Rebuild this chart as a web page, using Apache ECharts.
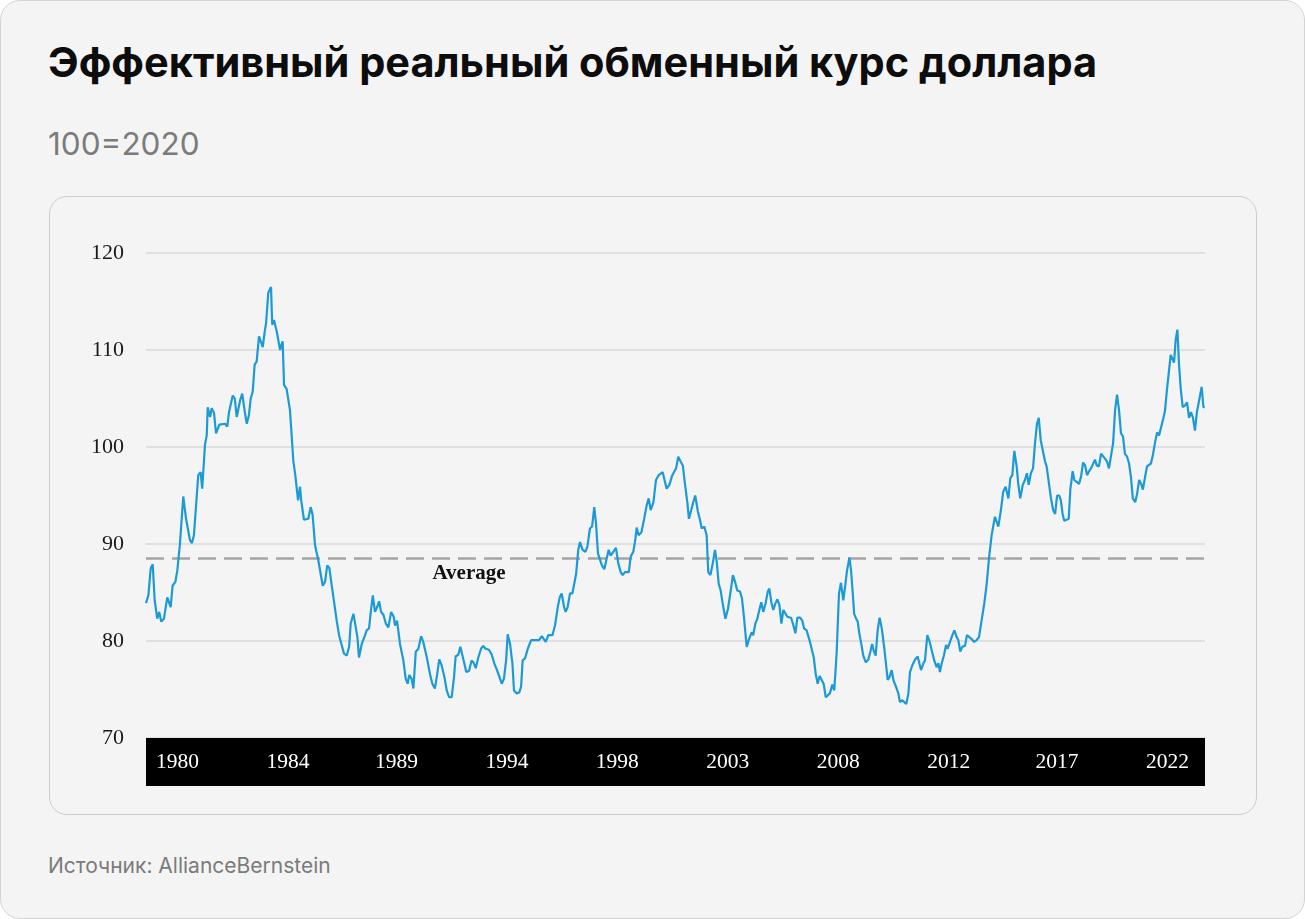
<!DOCTYPE html>
<html>
<head>
<meta charset="utf-8">
<script src="https://cdn.jsdelivr.net/npm/echarts@6/dist/echarts.min.js"></script>
<style>
  html, body { margin:0; padding:0; width:1305px; height:919px; background:#ffffff; overflow:hidden; }
  #card { position:absolute; left:0; top:0; width:1303px; height:917px; border:1px solid #d4d4d4; border-radius:20px; background:#f4f4f4; }
  #panel { position:absolute; left:49px; top:196px; width:1206px; height:617px; border:1px solid #cdcdcd; border-radius:18px; background:#f4f4f4; }
  .txt { position:absolute; left:48px; white-space:nowrap; font-family:Inter, 'Noto Sans', sans-serif; line-height:1; }
  #title { top:42px; font-size:41.5px; font-weight:700; color:#0d0d0d; }
  #subtitle { top:128px; font-size:31.5px; font-weight:400; color:#7b7b7b; }
  #source { top:855px; font-size:21px; font-weight:400; color:#7b7b7b; }
  #chart { position:absolute; left:0; top:0; width:1305px; height:919px; }
</style>
</head>
<body>
<div id="card"></div>
<div id="panel"></div>
<div class="txt" id="title">Эффективный реальный обменный курс доллара</div>
<div class="txt" id="subtitle">100=2020</div>
<div class="txt" id="source">Источник: AllianceBernstein</div>
<div id="chart"></div>
<script>
// Tick labels on the black band and the month index (from the first month of the series) they sit at
const tickLabels = ['1980', '1984', '1989', '1994', '1998', '2003', '2008', '2012', '2017', '2022'];
const tickMonthIdx = [16, 72, 127, 183, 239, 295, 351, 407, 462, 518];

// Long-run average level of the index
const averageLevel = 88.5;
const averageText = 'Average';

// Y-axis range
const yMin = 70, yMax = 120, yStep = 10;
const lastMonthIdx = 537;

// Real effective exchange rate of the dollar (100 = 2020): [month index, value]
const realRate = [
  [0,83.9],[1.2,84.7],[2.4,87.5],[3.4,87.9],[4.4,84.2],[5.7,82.3],[6.7,83.0],[7.7,82.0],[9.1,82.3],[10.8,84.5],
  [12.5,83.5],[13.5,85.7],[14.9,86.1],[15.9,87.3],[17.2,90.0],[18.9,94.9],[20.3,92.6],[22.3,90.4],[23.3,90.1],[24.3,90.9],
  [26.5,97.1],[27.7,97.4],[28.5,95.7],[29.9,100.2],[30.8,101.2],[31.3,104.1],[32.5,103.1],[33.3,104.0],[34.5,103.5],[35.5,101.4],
  [37.2,102.3],[40.1,102.4],[41.2,102.1],[42.1,103.6],[43.0,103.8],[44.0,105.3],[45.0,105.0],[46.0,103.1],[47.7,104.8],[48.8,105.5],
  [50.2,103.5],[51.1,102.4],[52.2,103.3],[53.1,105.0],[54.1,105.7],[55.1,108.5],[56.1,108.8],[57.3,111.4],[58.3,111.5],[59.2,110.3],
  [60.2,111.9],[60.9,112.8],[62.0,115.9],[63.4,116.5],[64.0,112.6],[64.9,113.1],[66.3,111.9],[68.0,110.0],[68.6,110.5],[69.3,110.9],
  [70.0,106.4],[71.3,106.0],[73.0,103.8],[74.7,98.6],[75.7,97.1],[77.1,94.5],[78.1,95.9],[78.7,94.5],[80.1,92.5],[82.3,92.6],
  [83.5,93.8],[84.5,93.0],[85.7,89.9],[87.4,88.3],[89.6,85.7],[90.8,86.1],[91.9,87.8],[93.0,87.5],[94.2,85.7],[95.0,85.6],
  [96.7,82.1],[97.9,80.6],[98.9,80.8],[100.4,78.7],[101.8,78.5],[103.0,79.4],[103.8,81.8],[105.2,82.8],[106.2,83.0],[107.2,80.4],
  [108.0,78.3],[109.4,79.7],[110.7,80.4],[111.9,81.1],[113.1,81.3],[114.1,83.2],[115.0,84.7],[116.1,83.0],[117.2,83.5],[118.2,84.1],
  [119.2,83.0],[120.4,82.7],[121.6,81.8],[122.9,81.4],[124.3,83.0],[125.6,82.5],[126.3,81.6],[127.3,82.1],[128.8,79.7],[130.5,78.0],
  [131.7,76.1],[132.7,75.6],[133.5,76.5],[134.7,76.1],[135.6,75.1],[136.8,78.9],[138.1,79.2],[139.5,80.5],[140.6,79.9],[142.4,78.3],
  [144.0,76.6],[145.2,75.6],[146.5,75.1],[147.6,76.5],[148.7,78.1],[149.9,77.5],[151.3,76.3],[152.5,74.9],[153.7,74.2],[155.0,74.2],
  [156.2,76.3],[157.0,78.4],[158.4,78.6],[159.4,79.4],[160.4,79.2],[161.4,77.7],[162.4,76.8],[163.8,76.9],[165.1,78.0],[166.3,77.7],
  [167.2,77.2],[168.5,78.3],[169.9,79.2],[171.0,79.5],[172.2,79.2],[173.9,79.1],[175.3,78.6],[176.6,77.7],[178.0,77.0],[179.0,76.8],
  [180.4,75.6],[181.5,76.1],[182.6,78.0],[183.4,80.7],[184.6,79.7],[185.8,77.7],[186.6,74.9],[188.0,74.6],[189.3,74.7],[190.2,75.3],
  [191.0,78.0],[192.2,78.2],[193.6,79.2],[195.3,80.1],[197.3,80.1],[199.3,80.1],[200.7,80.5],[201.7,80.6],[202.7,79.9],[204.0,80.6],
  [205.0,80.8],[206.1,80.6],[207.4,81.6],[208.8,83.5],[209.8,84.5],[210.8,84.9],[212.0,83.5],[212.8,83.0],[213.8,83.5],[215.0,84.9],
  [216.2,84.9],[218.1,86.9],[219.2,89.4],[220.1,90.2],[221.4,89.4],[222.8,89.2],[223.8,89.7],[225.1,91.6],[226.2,91.8],[227.3,93.8],
  [228.2,92.1],[229.2,89.0],[230.2,88.8],[231.2,87.8],[232.4,87.4],[233.6,88.5],[234.6,89.4],[235.6,88.8],[237.0,89.2],[238.3,89.6],
  [239.5,88.0],[240.7,87.1],[241.7,86.8],[242.9,87.1],[244.8,87.1],[245.8,88.7],[247.1,89.2],[248.1,90.4],[248.8,91.7],[249.8,90.9],
  [251.2,91.2],[252.5,92.5],[253.9,94.0],[254.9,94.7],[255.9,93.5],[257.3,94.3],[258.6,96.6],[260.0,97.1],[261.0,96.9],[262.0,97.4],
  [263.0,97.6],[264.0,95.7],[265.4,96.1],[266.7,97.0],[267.7,96.9],[268.8,97.8],[269.9,99.0],[271.1,98.5],[272.2,98.1],[273.3,96.2],
  [274.5,94.3],[275.3,92.6],[276.5,93.5],[277.5,94.3],[278.5,95.0],[279.9,93.3],[280.9,92.5],[281.8,91.6],[283.1,91.8],[284.3,90.9],
  [285.1,87.1],[286.2,86.8],[287.4,88.0],[288.5,89.4],[289.4,88.2],[290.4,85.9],[291.4,85.2],[292.4,83.9],[293.8,82.3],[295.1,83.3],
  [296.5,85.2],[297.6,86.8],[298.7,86.1],[299.8,85.2],[301.2,85.1],[302.2,84.4],[303.2,82.5],[304.6,79.4],[305.8,80.2],[307.1,80.9],
  [307.9,80.6],[309.0,81.8],[310.0,82.3],[311.0,83.2],[312.0,84.0],[313.0,83.0],[314.2,83.9],[315.3,85.1],[316.1,85.4],[317.1,84.0],
  [318.1,83.2],[319.2,83.9],[320.2,84.3],[321.2,83.7],[322.2,81.8],[323.2,83.2],[324.2,83.0],[325.2,82.5],[327.1,82.4],[328.3,81.6],
  [329.3,80.8],[330.3,82.4],[331.7,82.4],[332.8,82.1],[333.7,81.3],[335.0,81.1],[335.9,80.9],[336.7,79.9],[337.6,79.7],[338.6,78.3],
  [339.6,76.6],[340.6,75.6],[341.6,76.4],[342.6,76.5],[343.6,75.6],[344.7,74.2],[345.7,74.1],[346.8,74.6],[348.0,75.5],[349.0,74.9],
  [350.2,78.7],[351.4,84.9],[352.4,86.0],[353.6,84.2],[354.5,85.6],[355.5,87.3],[356.7,88.6],[357.5,87.3],[358.4,84.9],[359.1,82.8],
  [360.1,82.3],[360.9,82.0],[361.7,80.8],[362.7,79.7],[363.7,78.5],[365.0,77.8],[366.3,78.1],[367.3,78.9],[368.2,79.7],[369.0,79.0],
  [370.0,78.5],[371.0,81.1],[372.0,82.4],[373.1,81.3],[374.4,79.2],[375.2,77.7],[376.1,76.0],[377.1,76.3],[378.1,77.0],[379.1,75.9],
  [380.3,75.3],[381.5,74.6],[382.3,73.7],[383.5,73.9],[384.5,74.1],[385.5,73.5],[386.6,74.6],[387.4,76.8],[388.6,77.5],[390.0,78.1],
  [391.3,78.4],[392.1,78.3],[393.0,77.0],[394.2,77.7],[395.0,78.0],[396.2,80.6],[397.4,79.9],[398.6,78.9],[399.7,78.0],[400.9,77.3],
  [401.8,77.7],[402.6,76.8],[403.5,77.7],[404.6,78.5],[405.7,79.6],[406.5,79.2],[407.7,79.9],[408.9,80.6],[409.9,81.1],[411.1,80.4],
  [411.9,80.1],[412.9,78.9],[413.9,79.4],[415.3,79.5],[416.3,80.6],[417.3,80.7],[418.7,80.2],[419.9,79.9],[421.2,80.1],[422.4,80.4],
  [423.7,82.1],[425.1,83.9],[426.3,85.9],[427.5,88.6],[428.8,90.9],[430.2,92.5],[430.5,92.8],[432.2,91.8],[433.5,93.5],[434.7,95.4],
  [435.9,95.9],[437.3,94.7],[438.3,96.8],[439.3,97.1],[440.3,99.6],[441.5,98.0],[442.3,96.2],[443.3,94.7],[444.6,96.1],[445.7,96.6],
  [446.7,97.3],[447.6,96.1],[448.7,97.3],[449.8,97.8],[450.8,100.4],[451.8,102.4],[452.7,103.0],[453.7,100.7],[454.7,99.7],[455.9,98.5],
  [456.7,98.0],[457.9,96.2],[458.9,94.7],[460.0,93.5],[461.0,93.1],[462.0,95.0],[463.1,95.0],[463.9,94.5],[464.8,93.1],[465.6,92.4],
  [466.8,92.5],[467.9,92.6],[468.7,95.6],[469.9,97.5],[470.7,96.6],[471.9,96.4],[473.1,96.2],[474.1,96.9],[475.2,98.4],[476.2,98.1],
  [477.2,97.1],[478.2,97.5],[479.2,97.8],[480.2,98.0],[481.2,98.7],[482.1,98.1],[483.2,98.0],[484.3,99.3],[485.3,99.4],[486.3,98.8],
  [487.3,98.5],[488.3,97.8],[489.3,97.7],[490.4,100.4],[491.4,103.8],[492.4,105.4],[493.4,103.8],[494.4,101.4],[495.4,101.1],[496.4,99.3],
  [497.5,99.0],[498.5,98.3],[499.5,96.8],[500.4,94.7],[501.6,94.3],[502.6,95.2],[503.6,96.6],[504.6,96.2],[505.5,95.6],[506.6,96.9],
  [507.6,98.0],[508.6,98.2],[509.6,98.3],[510.6,99.2],[511.7,100.5],[512.7,101.5],[513.7,101.2],[514.7,101.3],[515.7,102.8],[516.7,103.7],
  [517.7,105.9],[518.6,107.6],[519.6,109.5],[520.6,109.3],[521.3,108.7],[522.1,111.0],[523.0,112.1],[523.8,108.6],[524.7,106.0],[525.7,104.1],
  [526.9,104.3],[527.9,104.6],[528.9,103.0],[529.9,103.6],[530.9,103.0],[531.9,101.7],[532.9,103.6],[534.3,105.1],[535.3,106.2],[536.2,104.1],
  [536.9,104.1]
];

const serif = "'Liberation Serif', 'Times New Roman', serif";
const chart = echarts.init(document.getElementById('chart'), null, { renderer: 'canvas' });
chart.setOption({
  animation: false,
  backgroundColor: 'transparent',
  grid: { left: 146, right: 100, top: 253, bottom: 181, containLabel: false },
  xAxis: {
    type: 'value',
    min: 0,
    max: lastMonthIdx,
    offset: 24,
    axisLine: { show: true, onZero: false, lineStyle: { color: '#000000', width: 48, cap: 'butt' } },
    axisTick: { show: false },
    splitLine: { show: false },
    axisLabel: {
      customValues: tickMonthIdx,
      formatter: function (v) { const k = tickMonthIdx.indexOf(v); return k >= 0 ? tickLabels[k] : ''; },
      color: '#ffffff',
      fontFamily: serif,
      fontSize: 21.5,
      margin: 0,
      verticalAlign: 'middle'
    }
  },
  yAxis: {
    type: 'value',
    min: yMin,
    max: yMax,
    interval: yStep,
    axisLine: { show: false },
    axisTick: { show: false },
    splitLine: { show: true, lineStyle: { color: '#dadada', width: 1.5 } },
    axisLabel: { margin: 22, color: '#1a1a1a', fontFamily: serif, fontSize: 22 }
  },
  series: [{
    type: 'line',
    data: realRate,
    showSymbol: false,
    symbol: 'none',
    lineStyle: { color: '#1b9ad6', width: 2.2 },
    z: 3,
    markLine: {
      silent: true,
      symbol: ['none', 'none'],
      label: { show: false },
      lineStyle: { type: [18, 8], color: '#a4a4a4', width: 2.5 },
      data: [{ yAxis: averageLevel }],
      z: 2
    },
    markPoint: {
      silent: true,
      symbol: 'rect',
      symbolSize: 0,
      label: {
        show: true,
        position: 'inside',
        formatter: averageText,
        fontFamily: serif,
        fontWeight: 'bold',
        fontSize: 21,
        color: '#111111'
      },
      data: [{ coord: [163.8, 87.0] }]
    }
  }]
});
</script>
</body>
</html>
